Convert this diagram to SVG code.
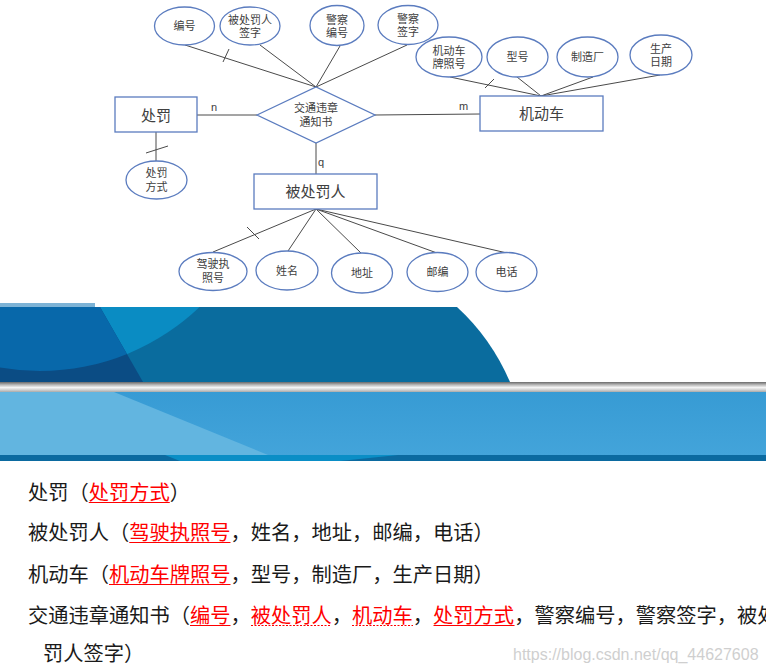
<svg xmlns="http://www.w3.org/2000/svg" width="766" height="672" viewBox="0 0 766 672">
<style>
.e{fill:#fff;stroke:#5b7cbf;stroke-width:1.3}
.r{fill:#fff;stroke:#5b7cbf;stroke-width:1.3}
.t{font-family:"Noto Sans CJK SC","Noto Sans",sans-serif;fill:#404040;text-anchor:middle}
.s{font-size:11px}
.b{font-size:15px}
.c line,.c path{stroke:#4a4a4a;stroke-width:1;fill:none}
.lbl{font-family:"Liberation Sans",Arial,sans-serif;font-size:11px;fill:#404040}
.tx{font-family:"Noto Sans CJK SC","Noto Sans",sans-serif;font-size:20.25px;fill:#1a1a1a}
.red{fill:#ff0000}
.ul{stroke:#ff0000;stroke-width:1.2}
.uld{stroke:#ff0000;stroke-width:1.2;stroke-dasharray:2 1.5}
</style>
<defs>
<clipPath id="bandClip"><path d="M0,307 H457 Q491,338 510,382 H0 Z"/></clipPath>
<clipPath id="leftClip"><path d="M0,307 H100 L143,382 H0 Z"/></clipPath>
<linearGradient id="grey" x1="0" y1="0" x2="0" y2="1">
<stop offset="0" stop-color="#6a6a6a"/>
<stop offset="0.3" stop-color="#bdbdbd"/>
<stop offset="0.55" stop-color="#f4f4f4"/>
<stop offset="0.8" stop-color="#cfcfcf"/>
<stop offset="1" stop-color="#a9a9a9"/>
</linearGradient>
<linearGradient id="lb" x1="0" y1="0" x2="0" y2="1">
<stop offset="0" stop-color="#379bd4"/>
<stop offset="1" stop-color="#43a4da"/>
</linearGradient>
</defs>
<rect width="766" height="672" fill="#fff"/>

<!-- background slide band -->
<g id="band">
<rect x="0" y="303" width="95" height="4" fill="#7db3d6"/>
<g clip-path="url(#bandClip)">
<rect x="0" y="307" width="520" height="75" fill="#0a6c9e"/>
<circle cx="40" cy="140" r="231" fill="#0a8cc3"/>
</g>
<g clip-path="url(#leftClip)">
<rect x="0" y="307" width="150" height="75" fill="#0b4c84"/>
<circle cx="40" cy="140" r="231" fill="#0868aa"/>
</g>
<rect x="0" y="382" width="766" height="10" fill="url(#grey)"/>
<rect x="0" y="392" width="766" height="63" fill="url(#lb)"/>
<polygon points="0,392 114,392 268,455 0,455" fill="#62b5e0"/>
<rect x="0" y="455" width="766" height="6" fill="#0b6aa0"/>
<polygon points="165,455 398,455 340,461 180,461" fill="#0a8ec6"/>
</g>

<!-- connectors -->
<g id="connectors" class="c">
<line x1="185" y1="45" x2="316" y2="87"/>
<line x1="260" y1="45" x2="316" y2="87"/>
<line x1="340" y1="46" x2="316" y2="87"/>
<line x1="407" y1="45" x2="316" y2="87"/>
<line x1="223" y1="62" x2="229" y2="49"/>
<line x1="197" y1="115" x2="257" y2="115"/>
<line x1="375" y1="115" x2="480" y2="114"/>
<line x1="450" y1="77" x2="541" y2="96"/>
<line x1="517" y1="77" x2="541" y2="96"/>
<line x1="593" y1="77" x2="541" y2="96"/>
<line x1="660" y1="75" x2="541" y2="96"/>
<line x1="485" y1="88" x2="494" y2="79"/>
<line x1="156" y1="132" x2="156" y2="161"/>
<line x1="146" y1="153" x2="168" y2="146"/>
<line x1="316" y1="143" x2="316" y2="174"/>
<line x1="316" y1="209" x2="213" y2="252"/>
<line x1="316" y1="209" x2="288" y2="251"/>
<line x1="316" y1="209" x2="361" y2="253"/>
<line x1="316" y1="209" x2="437" y2="253"/>
<line x1="316" y1="209" x2="507" y2="253"/>
<line x1="247" y1="227" x2="259" y2="239"/>
<text class="lbl" x="211" y="111">n</text>
<text class="lbl" x="459" y="110">m</text>
<text class="lbl" x="318" y="166">q</text>
</g>

<!-- entities / relationship -->
<g id="n-chufa">
<rect class="r" x="115" y="97" width="82" height="35"/>
<text class="t b" x="156" y="120.5">处罚</text>
</g>
<g id="n-tongzhishu">
<polygon class="r" points="257,115 316,87 375,115 316,143"/>
<text class="t s" x="316" y="112">交通违章<tspan x="316" dy="14">通知书</tspan></text>
</g>
<g id="n-jidongche">
<rect class="r" x="480" y="96" width="123" height="35"/>
<text class="t b" x="541.5" y="119">机动车</text>
</g>
<g id="n-beichufaren">
<rect class="r" x="254" y="174" width="123" height="35"/>
<text class="t b" x="315.5" y="197">被处罚人</text>
</g>

<!-- attributes -->
<g id="a-bianhao">
<ellipse class="e" cx="184.5" cy="26" rx="30" ry="19"/>
<text class="t s" x="184.5" y="29.5">编号</text>
</g>
<g id="a-beichufarenqianzi">
<ellipse class="e" cx="250" cy="26" rx="30" ry="19"/>
<text class="t s" x="250" y="24">被处罚人<tspan x="250" dy="13">签字</tspan></text>
</g>
<g id="a-jingchabianhao">
<ellipse class="e" cx="337" cy="25.5" rx="27" ry="20"/>
<text class="t s" x="337" y="23.5">警察<tspan x="337" dy="13">编号</tspan></text>
</g>
<g id="a-jingchaqianzi">
<ellipse class="e" cx="408" cy="25" rx="30" ry="19.5"/>
<text class="t s" x="408" y="23">警察<tspan x="408" dy="13">签字</tspan></text>
</g>
<g id="a-paizhaohao">
<ellipse class="e" cx="449" cy="57" rx="33" ry="20"/>
<text class="t s" x="449" y="55">机动车<tspan x="449" dy="12.5">牌照号</tspan></text>
</g>
<g id="a-xinghao">
<ellipse class="e" cx="517.5" cy="57" rx="30.5" ry="20"/>
<text class="t s" x="517.5" y="61">型号</text>
</g>
<g id="a-zhizaochang">
<ellipse class="e" cx="587.5" cy="57" rx="30.5" ry="20"/>
<text class="t s" x="587.5" y="61">制造厂</text>
</g>
<g id="a-shengchanriqi">
<ellipse class="e" cx="661" cy="55" rx="31" ry="20"/>
<text class="t s" x="661" y="53">生产<tspan x="661" dy="13">日期</tspan></text>
</g>
<g id="a-chufafangshi">
<ellipse class="e" cx="156.5" cy="180" rx="30.5" ry="19"/>
<text class="t s" x="156.5" y="177">处罚<tspan x="156.5" dy="14">方式</tspan></text>
</g>
<g id="a-jiashizhizhaohao">
<ellipse class="e" cx="213" cy="271.5" rx="34" ry="19"/>
<text class="t s" x="213" y="268">驾驶执<tspan x="213" dy="14">照号</tspan></text>
</g>
<g id="a-xingming">
<ellipse class="e" cx="287" cy="270.5" rx="31" ry="19.5"/>
<text class="t s" x="287" y="274.5">姓名</text>
</g>
<g id="a-dizhi">
<ellipse class="e" cx="362" cy="273" rx="30.5" ry="20"/>
<text class="t s" x="362" y="277">地址</text>
</g>
<g id="a-youbian">
<ellipse class="e" cx="437.5" cy="272" rx="30.5" ry="19.5"/>
<text class="t s" x="437.5" y="276">邮编</text>
</g>
<g id="a-dianhua">
<ellipse class="e" cx="506.5" cy="272" rx="30.5" ry="19.5"/>
<text class="t s" x="506.5" y="276">电话</text>
</g>

<!-- relational schema text -->
<g id="schema">
<text class="tx" x="28" y="500">处罚（<tspan class="red">处罚方式</tspan>）</text>
<line class="ul" x1="88.75" y1="502.5" x2="169.75" y2="502.5"/>
<text class="tx" x="28" y="540">被处罚人（<tspan class="red">驾驶执照号</tspan>，姓名，地址，邮编，电话）</text>
<line class="ul" x1="129.25" y1="542.5" x2="230.5" y2="542.5"/>
<text class="tx" x="28" y="582">机动车（<tspan class="red">机动车牌照号</tspan>，型号，制造厂，生产日期）</text>
<line class="ul" x1="109" y1="584.5" x2="230.5" y2="584.5"/>
<text class="tx" x="28" y="623">交通违章通知书（<tspan class="red">编号</tspan>，<tspan class="red">被处罚人</tspan>，<tspan class="red">机动车</tspan>，<tspan class="red">处罚方式</tspan>，警察编号，警察签字，被处</text>
<line class="ul" x1="190" y1="625.5" x2="230.5" y2="625.5"/>
<line class="uld" x1="251" y1="625.5" x2="331" y2="625.5"/>
<line class="uld" x1="352" y1="625.5" x2="413" y2="625.5"/>
<line class="ul" x1="433.5" y1="625.5" x2="514.5" y2="625.5"/>
<text class="tx" x="43" y="661">罚人签字）</text>
<text x="513" y="660" font-family="'Liberation Sans',Arial,sans-serif" font-size="16" fill="#cfcfcf">https://blog.csdn.net/qq_44627608</text>
</g>
</svg>
